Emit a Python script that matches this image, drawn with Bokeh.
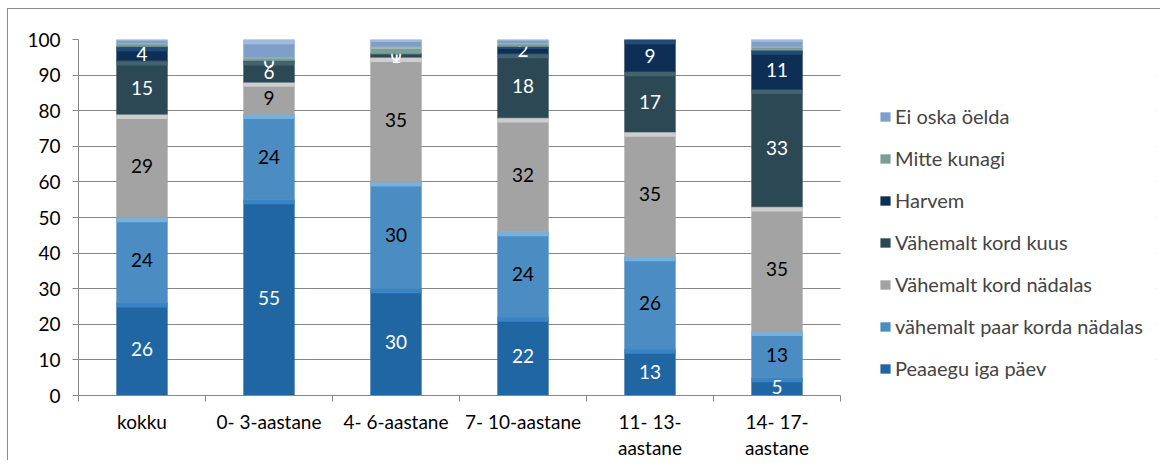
from bokeh.plotting import figure
from bokeh.models import ColumnDataSource, Legend, LegendItem, FixedTicker, Range1d, BoxAnnotation
from bokeh.embed import file_html
from bokeh.resources import INLINE
from bokeh.core.properties import value

categories = ["kokku", "0- 3-aastane", "4- 6-aastane", "7- 10-aastane", "11- 13-\naastane", "14- 17-\naastane"]
series = ["Peaaegu iga päev", "vähemalt paar korda nädalas", "Vähemalt kord nädalas",
          "Vähemalt kord kuus", "Harvem", "Mitte kunagi", "Ei oska öelda"]
peaaegu = [26, 55, 30, 22, 13, 5]
paar = [24, 24, 30, 24, 26, 13]
nadalas = [29, 9, 35, 32, 35, 35]
kuus = [15, 6, 1, 18, 17, 33]
harvem = [4, 0, 0, 2, 9, 11]
mitte = [1, 1, 2, 1, 0, 1]
ei_oska = [1, 5, 2, 1, 0, 2]
y_ticks = [0, 10, 20, 30, 40, 50, 60, 70, 80, 90, 100]

values = [peaaegu, paar, nadalas, kuus, harvem, mitte, ei_oska]
colors = ["#2066a3", "#4b8cc3", "#a3a3a3", "#2b4854", "#0e2f55", "#7d9e97", "#7f9fca"]
tops_c = ["#3f8ccc", "#7fb9e6", "#d8d8d8", "#4a6a74", "#2a5281", "#a9c1bb", "#a9c0e2"]
label_colors = ["white", "black", "black", "white", "white", None, None]

FONT = "Lato"
FS = "19px"
W, H = 1153, 452
ML, MR, MT, MB = 70, 5, 30, 65
frame_w = W - ML - MR
n = len(categories)
x_end = n * frame_w / 762.0   # bar area is 762 px wide; the rest holds the legend

p = figure(width=W, height=H, output_backend="svg", toolbar_location=None,
           x_range=Range1d(0, x_end), y_range=Range1d(0, 100),
           min_border_left=ML, min_border_right=MR, min_border_top=MT, min_border_bottom=MB)
p.styles = {"border-top": "1px solid #8c8c8c", "border-left": "1px solid #8c8c8c",
            "box-sizing": "border-box", "margin-left": "7px", "margin-top": "8px"}
p.outline_line_color = None
p.background_fill_color = "white"

xs = [i + 0.5 for i in range(n)]
bottom = [0] * n
renderers = []
for k, (name, vals) in enumerate(zip(series, values)):
    top = [b + v for b, v in zip(bottom, vals)]
    src = ColumnDataSource(dict(x=xs, bottom=bottom, top=top,
                                btop=[t - min(1.3, v * 0.35) for t, v in zip(top, vals)],
                                mid=[(b + t) / 2 for b, t in zip(bottom, top)],
                                lab=[str(v) for v in vals]))
    r = p.vbar(x="x", bottom="bottom", top="top", width=0.4, source=src,
               fill_color=colors[k], line_color=colors[k], line_width=0.5)
    p.vbar(x="x", bottom="btop", top="top", width=0.4, source=src,
           fill_color=tops_c[k], line_color=None, fill_alpha=0.8)
    renderers.append(r)
    if label_colors[k]:
        p.text(x="x", y="mid", text="lab", source=src, text_align="center",
               text_baseline="middle", text_font=value(FONT), text_font_size=FS,
               text_color=label_colors[k])
    bottom = top

# hide gridlines in the legend area
p.add_layout(BoxAnnotation(left=n, fill_color="white", fill_alpha=1.0,
                           line_color=None, level="underlay"))

# axes
p.yaxis.ticker = FixedTicker(ticks=y_ticks)
p.ygrid.ticker = FixedTicker(ticks=y_ticks)
p.ygrid.grid_line_color = "#868686"
p.xgrid.grid_line_color = None
p.yaxis.axis_line_color = "#868686"
p.yaxis.major_tick_line_color = "#868686"
p.yaxis.major_tick_out = 6
p.yaxis.major_tick_in = 0
p.yaxis.minor_tick_line_color = None
p.yaxis.major_label_standoff = 12
p.yaxis.major_label_text_font = FONT
p.yaxis.major_label_text_font_size = FS
p.yaxis.major_label_text_color = "black"

p.xaxis.bounds = (0, n)
p.xaxis.ticker = FixedTicker(ticks=xs, minor_ticks=list(range(n + 1)))
p.xaxis.major_label_overrides = {x: c for x, c in zip(xs, categories)}
p.xaxis.axis_line_color = "#868686"
p.xaxis.major_tick_line_color = None
p.xaxis.minor_tick_line_color = "#868686"
p.xaxis.minor_tick_out = 6
p.xaxis.minor_tick_in = 0
p.xaxis.major_label_standoff = 8
p.xaxis.major_label_text_font = FONT
p.xaxis.major_label_text_font_size = FS
p.xaxis.major_label_text_color = "black"
p.xaxis.major_label_text_line_height = 1.15

items = [LegendItem(label=series[k], renderers=[renderers[k]]) for k in reversed(range(len(series)))]
legend = Legend(items=items, location=(801, 15), orientation="vertical",
                glyph_width=12, glyph_height=11, label_height=22, spacing=18,
                label_text_font=FONT, label_text_font_size="20px", label_standoff=4,
                padding=0, margin=0, border_line_color=None, background_fill_alpha=0)
p.add_layout(legend, "center")

open("out.html", "w").write(file_html(p, INLINE))
